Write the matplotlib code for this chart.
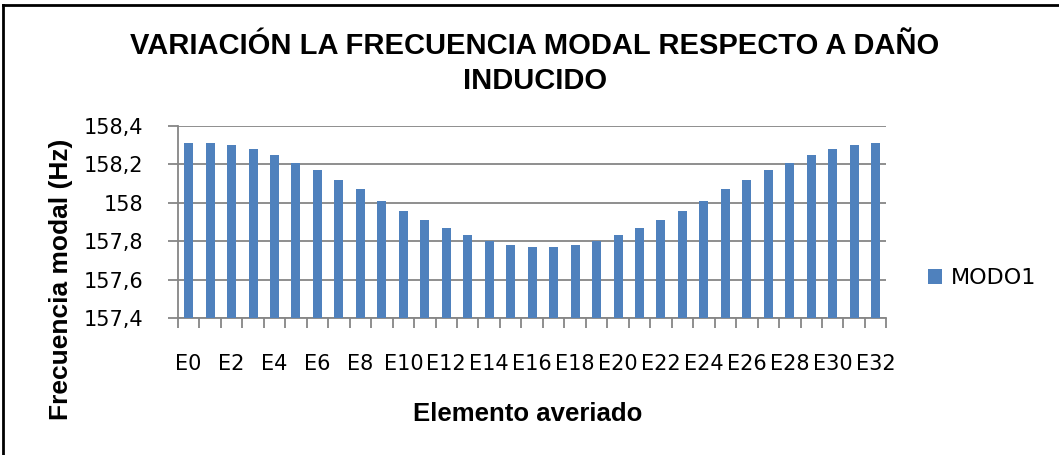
import numpy as np
import matplotlib.pyplot as plt
from matplotlib.lines import Line2D

# datos (frecuencia del modo 1 por elemento averiado)
elementos = ["E%d" % i for i in range(33)]
modo1 = [158.31, 158.31, 158.30, 158.28, 158.25, 158.21, 158.17, 158.12, 158.07,
         158.01, 157.96, 157.91, 157.87, 157.83, 157.80, 157.78, 157.77, 157.77,
         157.78, 157.80, 157.83, 157.87, 157.91, 157.96, 158.01, 158.07, 158.12,
         158.17, 158.21, 158.25, 158.28, 158.30, 158.31]
y_ticks = [157.4, 157.6, 157.8, 158.0, 158.2, 158.4]
y_labels = ["157,4", "157,6", "157,8", "158", "158,2", "158,4"]

titulo = "VARIACIÓN LA FRECUENCIA MODAL RESPECTO A DAÑO\nINDUCIDO"
azul = "#4F81BD"
gris = "#868686"

fig = plt.figure(figsize=(10.59, 4.55), dpi=100)
ax = fig.add_axes([0.168, 0.301, 0.669, 0.422])

x = np.arange(len(elementos))
ax.bar(x, modo1, width=0.42, color=azul, label="MODO1", zorder=3)

ax.set_ylim(157.4, 158.4)
ax.set_xlim(-0.5, len(elementos) - 0.5)
ax.set_yticks(y_ticks)
ax.set_yticklabels(y_labels, fontsize=15, family="DejaVu Sans")
ax.yaxis.grid(True, color=gris, linewidth=1.3, zorder=0)

# marcas en los limites de categoria, etiquetas en el centro (solo pares)
ax.set_xticks(np.arange(len(elementos) + 1) - 0.5)
ax.set_xticklabels([])
ax.set_xticks(x, minor=True)
ax.set_xticklabels([e if i % 2 == 0 else "" for i, e in enumerate(elementos)],
                   minor=True, fontsize=15, family="DejaVu Sans")
ax.tick_params(axis="x", which="major", length=7, color=gris, width=1.3)
ax.tick_params(axis="x", which="minor", length=0, pad=26)
ax.tick_params(axis="y", length=7, color=gris, width=1.3, pad=18)

for s in ["top", "right"]:
    ax.spines[s].set_visible(False)
ax.spines["left"].set_color(gris)
ax.spines["bottom"].set_color(gris)
ax.spines["left"].set_linewidth(1.3)
ax.spines["bottom"].set_linewidth(1.3)

ax.set_xlabel("Elemento averiado", fontsize=18.5, fontweight="bold",
              family="Liberation Sans", va="center")
ax.xaxis.set_label_coords(0.494, -0.50)
ax.set_ylabel("Frecuencia modal (Hz)", fontsize=19, fontweight="bold",
              family="Liberation Sans", va="center")
ax.yaxis.set_label_coords(-0.165, 0.203)

fig.text(0.505, 0.86, titulo, ha="center", va="center", fontsize=21,
         fontweight="bold", family="Liberation Sans", linespacing=1.3)

ax.legend(loc="center left", bbox_to_anchor=(0.876, 0.389),
          bbox_transform=fig.transFigure, frameon=False, borderpad=0,
          borderaxespad=0, prop={"family": "DejaVu Sans", "size": 16},
          handlelength=0.65, handleheight=0.65, handletextpad=0.4)

# borde del grafico (solo se ven arriba e izquierda)
fig.add_artist(Line2D([0.003, 1.0], [0.989, 0.989], transform=fig.transFigure,
                      color="black", linewidth=2))
fig.add_artist(Line2D([0.003, 0.003], [0.0, 0.989], transform=fig.transFigure,
                      color="black", linewidth=2))

fig.savefig("out.png", dpi=100)
